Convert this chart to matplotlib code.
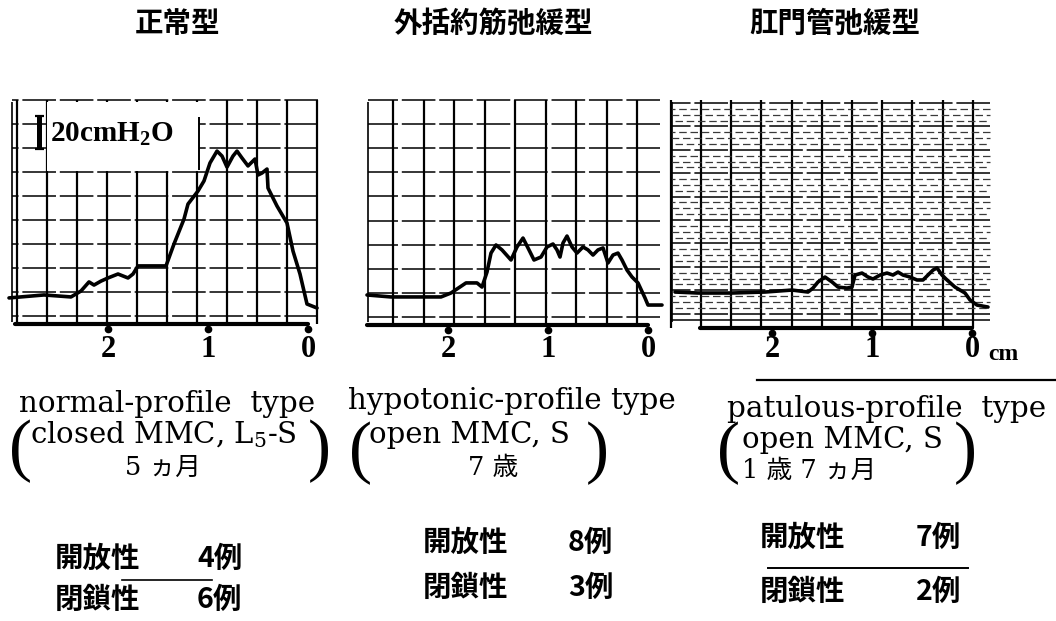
import numpy as np
import matplotlib
matplotlib.use('Agg')
import matplotlib.pyplot as plt
from matplotlib.patches import Rectangle
from matplotlib.lines import Line2D

plt.rcParams['mathtext.default'] = 'regular'

W, H = 1056, 621

# ---------------- data ----------------
titles = ['正常型', '外括約筋弛緩型', '肛門管弛緩型']
type_names = ['normal-profile  type', 'hypotonic-profile type', 'patulous-profile  type']
conditions = ['closed MMC, L$_5$-S', 'open MMC, S', 'open MMC, S']
ages = ['5 ヵ月', '7 歳', '1 歳 7 ヵ月']
open_label = '開放性'
closed_label = '閉鎖性'
open_counts = ['4例', '8例', '7例']
closed_counts = ['6例', '3例', '2例']
tick_values = [2, 1, 0]
tick_labels = ['2', '1', '0']
scale_bar_cmH2O = 20
scale_label = '20cmH$_2$O'
unit_label = 'cm'

# distance from anal verge (cm) and pressure (cmH2O above chart baseline)
normal_x = [2.99, 2.64, 2.37, 2.27, 2.19, 2.14, 2.07, 2.00, 1.90, 1.85,
            1.80, 1.75, 1.70, 1.42, 1.34, 1.24, 1.20, 1.10, 1.04, 0.98,
            0.91, 0.86, 0.81, 0.75, 0.71, 0.66, 0.60, 0.53, 0.50, 0.46,
            0.41, 0.40, 0.31, 0.21, 0.15, 0.08, 0.01, -0.09]
normal_p = [15.8, 17.6, 16.4, 20.0, 25.5, 23.6, 26.0, 27.9, 30.3, 29.1,
            27.9, 30.3, 35.2, 35.2, 48.5, 63.6, 72.7, 80.6, 86.7, 97.6,
            104.8, 101.8, 95.1, 101.8, 104.8, 100.6, 95.8, 100.0, 90.3, 91.5,
            93.9, 82.4, 71.5, 61.2, 44.2, 30.3, 12.1, 9.7]

hypotonic_x = [2.81, 2.57, 2.27, 2.07, 1.97, 1.82, 1.71, 1.66, 1.61, 1.57,
               1.52, 1.46, 1.37, 1.31, 1.25, 1.19, 1.14, 1.07, 1.01, 0.95,
               0.91, 0.88, 0.85, 0.81, 0.76, 0.71, 0.65, 0.60, 0.55, 0.50,
               0.45, 0.40, 0.35, 0.30, 0.26, 0.21, 0.16, 0.10, 0.03, 0.00, -0.14]
hypotonic_p = [18.2, 17.0, 17.0, 17.0, 19.4, 25.5, 25.5, 23.0, 32.1, 43.6,
               48.5, 45.5, 39.4, 47.3, 52.7, 45.5, 39.4, 41.2, 47.3, 49.1,
               45.5, 41.2, 49.7, 53.9, 47.3, 43.6, 47.3, 45.5, 42.4, 45.5,
               46.7, 37.6, 42.4, 43.6, 39.4, 33.3, 29.1, 25.5, 16.4, 12.1, 12.1]

patulous_x = [2.97, 2.74, 2.40, 2.07, 1.80, 1.64, 1.59, 1.54, 1.47, 1.40,
              1.34, 1.25, 1.20, 1.17, 1.10, 1.04, 0.99, 0.92, 0.85, 0.79,
              0.74, 0.69, 0.62, 0.55, 0.49, 0.44, 0.39, 0.35, 0.30, 0.25,
              0.17, 0.07, 0.02, -0.05, -0.16]
patulous_p = [21.8, 21.2, 21.2, 21.8, 23.0, 21.8, 24.2, 27.9, 30.9, 27.9,
              24.8, 24.2, 24.8, 32.1, 33.3, 30.9, 29.7, 32.1, 33.3, 32.1,
              33.9, 32.1, 30.9, 29.1, 29.1, 32.1, 35.1, 36.4, 32.1, 29.1,
              24.8, 21.2, 17.0, 13.9, 12.7]

traces = [(normal_x, normal_p), (hypotonic_x, hypotonic_p), (patulous_x, patulous_p)]

# ---------------- layout (pixels) ----------------
PX_CM = 100.0      # px per cm
PX_P = 1.65        # px per cmH2O
AX_TOP, AX_BOT = 98, 331

geo = [
    dict(left=6, right=324, zero=308, axis=324, box_l=12, box_r=318,
         v0=0.21, vstep=0.30, vk=range(-1, 10), h_top=100, h_step=24.0, h_n=10,
         axis_start=2.93, frame_top=100),
    dict(left=358, right=668, zero=648, axis=325, box_l=368, box_r=660,
         v0=0.11, vstep=0.305, vk=range(0, 9), h_top=100, h_step=24.1, h_n=10,
         axis_start=2.81, frame_top=100),
    dict(left=666, right=996, zero=972, axis=328, box_l=672, box_r=990,
         v0=0.295, vstep=0.302, vk=range(-1, 10), h_top=103, h_step=23.4, h_n=10,
         axis_start=2.72, frame_top=100),
]

fig = plt.figure(figsize=(W / 100, H / 100), dpi=100)
fig.patch.set_facecolor('white')


def fx(px):
    return px / W


def fy(py):
    return 1 - py / H


for i, g in enumerate(geo):
    ax = fig.add_axes([fx(g['left']), fy(AX_BOT), (g['right'] - g['left']) / W,
                       (AX_BOT - AX_TOP) / H])
    ax.set_xlim((g['zero'] - g['left']) / PX_CM, (g['zero'] - g['right']) / PX_CM)
    ax.set_ylim((g['axis'] - AX_BOT) / PX_P, (g['axis'] - AX_TOP) / PX_P)
    for s in ax.spines.values():
        s.set_visible(False)
    ax.set_yticks([])
    ax.patch.set_alpha(0)

    def py2d(py, g=g):
        return (g['axis'] - py) / PX_P

    xl = (g['zero'] - g['box_l']) / PX_CM
    xr = (g['zero'] - g['box_r']) / PX_CM
    ytop = py2d(g['frame_top'])

    # vertical chart-paper lines
    vx = [g['v0'] + g['vstep'] * k for k in g['vk']]
    ax.vlines(vx, 0, ytop, color='black', lw=1.6, zorder=1)
    ax.vlines([xl], py2d(g['frame_top'] + 2), py2d(322), color='black', lw=1.2, zorder=1)

    # horizontal chart-paper lines
    hy = [py2d(g['h_top'] + g['h_step'] * k) for k in range(g['h_n'])]
    ax.hlines(hy, xr, xl, color='black', lw=1.1, zorder=1,
              linestyles=[(0, (22, 2.5))])

    if i == 2:
        # dense fine ruling of the third recording paper
        minor = []
        for k in range(g['h_n'] - 1):
            for m in range(1, 4):
                minor.append(py2d(g['h_top'] + g['h_step'] * (k + m / 4)))
        for j, yv in enumerate(minor):
            ax.hlines([yv], xr, xl, color='#3a3a3a', lw=0.9, zorder=1,
                      linestyles=[((j * 3) % 9, (6, 3))])
        ax.hlines([py2d(320)], xr, xl, color='black', lw=1.1, zorder=1)

    if i == 0:
        # white label area with the pressure scale
        x_a = (g['zero'] - 199) / PX_CM
        x_b = (g['zero'] - 47) / PX_CM
        y_a = py2d(171)
        y_b = py2d(102)
        ax.add_patch(Rectangle((x_a, y_a), x_b - x_a, y_b - y_a, fc='white',
                               ec='none', zorder=2))
        ax.vlines([x_a], py2d(170), py2d(117), color='black', lw=1.4, zorder=3)
        bx = (g['zero'] - 39) / PX_CM
        b0 = py2d(149)
        ax.plot([bx, bx], [b0, b0 + scale_bar_cmH2O], color='black', lw=3.6,
                solid_capstyle='butt', zorder=4)
        for yy in (b0, b0 + scale_bar_cmH2O):
            ax.plot([bx - 0.045, bx + 0.045], [yy, yy], color='black', lw=1.6,
                    solid_capstyle='butt', zorder=4)
        ax.text(x_b - 0.03, py2d(134), scale_label, fontsize=21, fontweight='bold',
                family='Liberation Serif', ha='left', va='center', zorder=5)

    # pressure trace
    tx, tp = traces[i]
    ax.plot(tx, tp, color='black', lw=2.6, zorder=6, solid_joinstyle='round',
            solid_capstyle='round')

    # distance axis
    ax.plot([g['axis_start'], 0], [0, 0], color='black', lw=3.0,
            solid_capstyle='round', clip_on=False, zorder=7)
    ax.plot(tick_values, [-2.8] * len(tick_values), 'o', color='black', ms=4.5,
            clip_on=False, zorder=7)
    ax.set_xticks(tick_values)
    ax.set_xticklabels(tick_labels, fontsize=22, fontweight='bold',
                       family='Liberation Serif')
    ax.tick_params(axis='x', length=0, pad=3)

# unit next to the last zero
fig.text(fx(988), fy(355), unit_label, fontsize=17, fontweight='bold',
         family='Liberation Serif', ha='left', va='center')

# separating rule above the third description
fig.add_artist(Line2D([fx(757), fx(1056)], [fy(380), fy(380)], color='black', lw=1.6))

# ---------------- titles ----------------
title_x = [177, 493, 835]
for t, x in zip(titles, title_x):
    fig.text(fx(x), fy(24), t, fontsize=20.5, fontweight='bold',
             family='Noto Sans CJK JP', ha='center', va='center')

# ---------------- descriptions ----------------
serif = 'DejaVu Serif'
name_x = [167, 512, 887]
name_base = [412, 409, 417]
cond_x = [30, 369, 742]
cond_base = [443, 443, 448]
age_x = [163, 493, 742]
age_ha = ['center', 'center', 'left']
age_base = [475, 475, 478]
paren_l = [21, 361, 729]
paren_r = [319, 597, 965]
paren_y = [451, 453, 453]

for i in range(3):
    fig.text(fx(name_x[i]), fy(name_base[i]), type_names[i], fontsize=21.2,
             family=serif, ha='center', va='baseline')
    fig.text(fx(cond_x[i]), fy(cond_base[i]), conditions[i], fontsize=21,
             family=serif, ha='left', va='baseline')
    fig.text(fx(age_x[i]), fy(age_base[i]), ages[i], fontsize=18.5,
             family=[serif, 'Noto Sans CJK JP'], ha=age_ha[i], va='baseline')
    fig.text(fx(paren_l[i]), fy(paren_y[i]), '(', fontsize=50,
             family='Liberation Serif', ha='center', va='center')
    fig.text(fx(paren_r[i]), fy(paren_y[i]), ')', fontsize=50,
             family='Liberation Serif', ha='center', va='center')

# ---------------- case counts ----------------
lab_x = [55, 423, 760]
cnt_x = [197, 568, 916]
open_y = [559, 543, 538]
closed_y = [600, 588, 592]
for i in range(3):
    kw = dict(fontsize=20.5, fontweight='bold', family='Noto Sans CJK JP', va='center')
    fig.text(fx(lab_x[i]), fy(open_y[i]), open_label, ha='left', **kw)
    fig.text(fx(cnt_x[i]), fy(open_y[i]), open_counts[i], ha='left', **kw)
    fig.text(fx(lab_x[i]), fy(closed_y[i]), closed_label, ha='left', **kw)
    fig.text(fx(cnt_x[i]), fy(closed_y[i]), closed_counts[i], ha='left', **kw)

fig.add_artist(Line2D([fx(122), fx(212)], [fy(580), fy(580)], color='black', lw=1.2))
fig.add_artist(Line2D([fx(768), fx(968)], [fy(568), fy(568)], color='black', lw=1.4))

fig.savefig('out.png', dpi=100, facecolor='white')
